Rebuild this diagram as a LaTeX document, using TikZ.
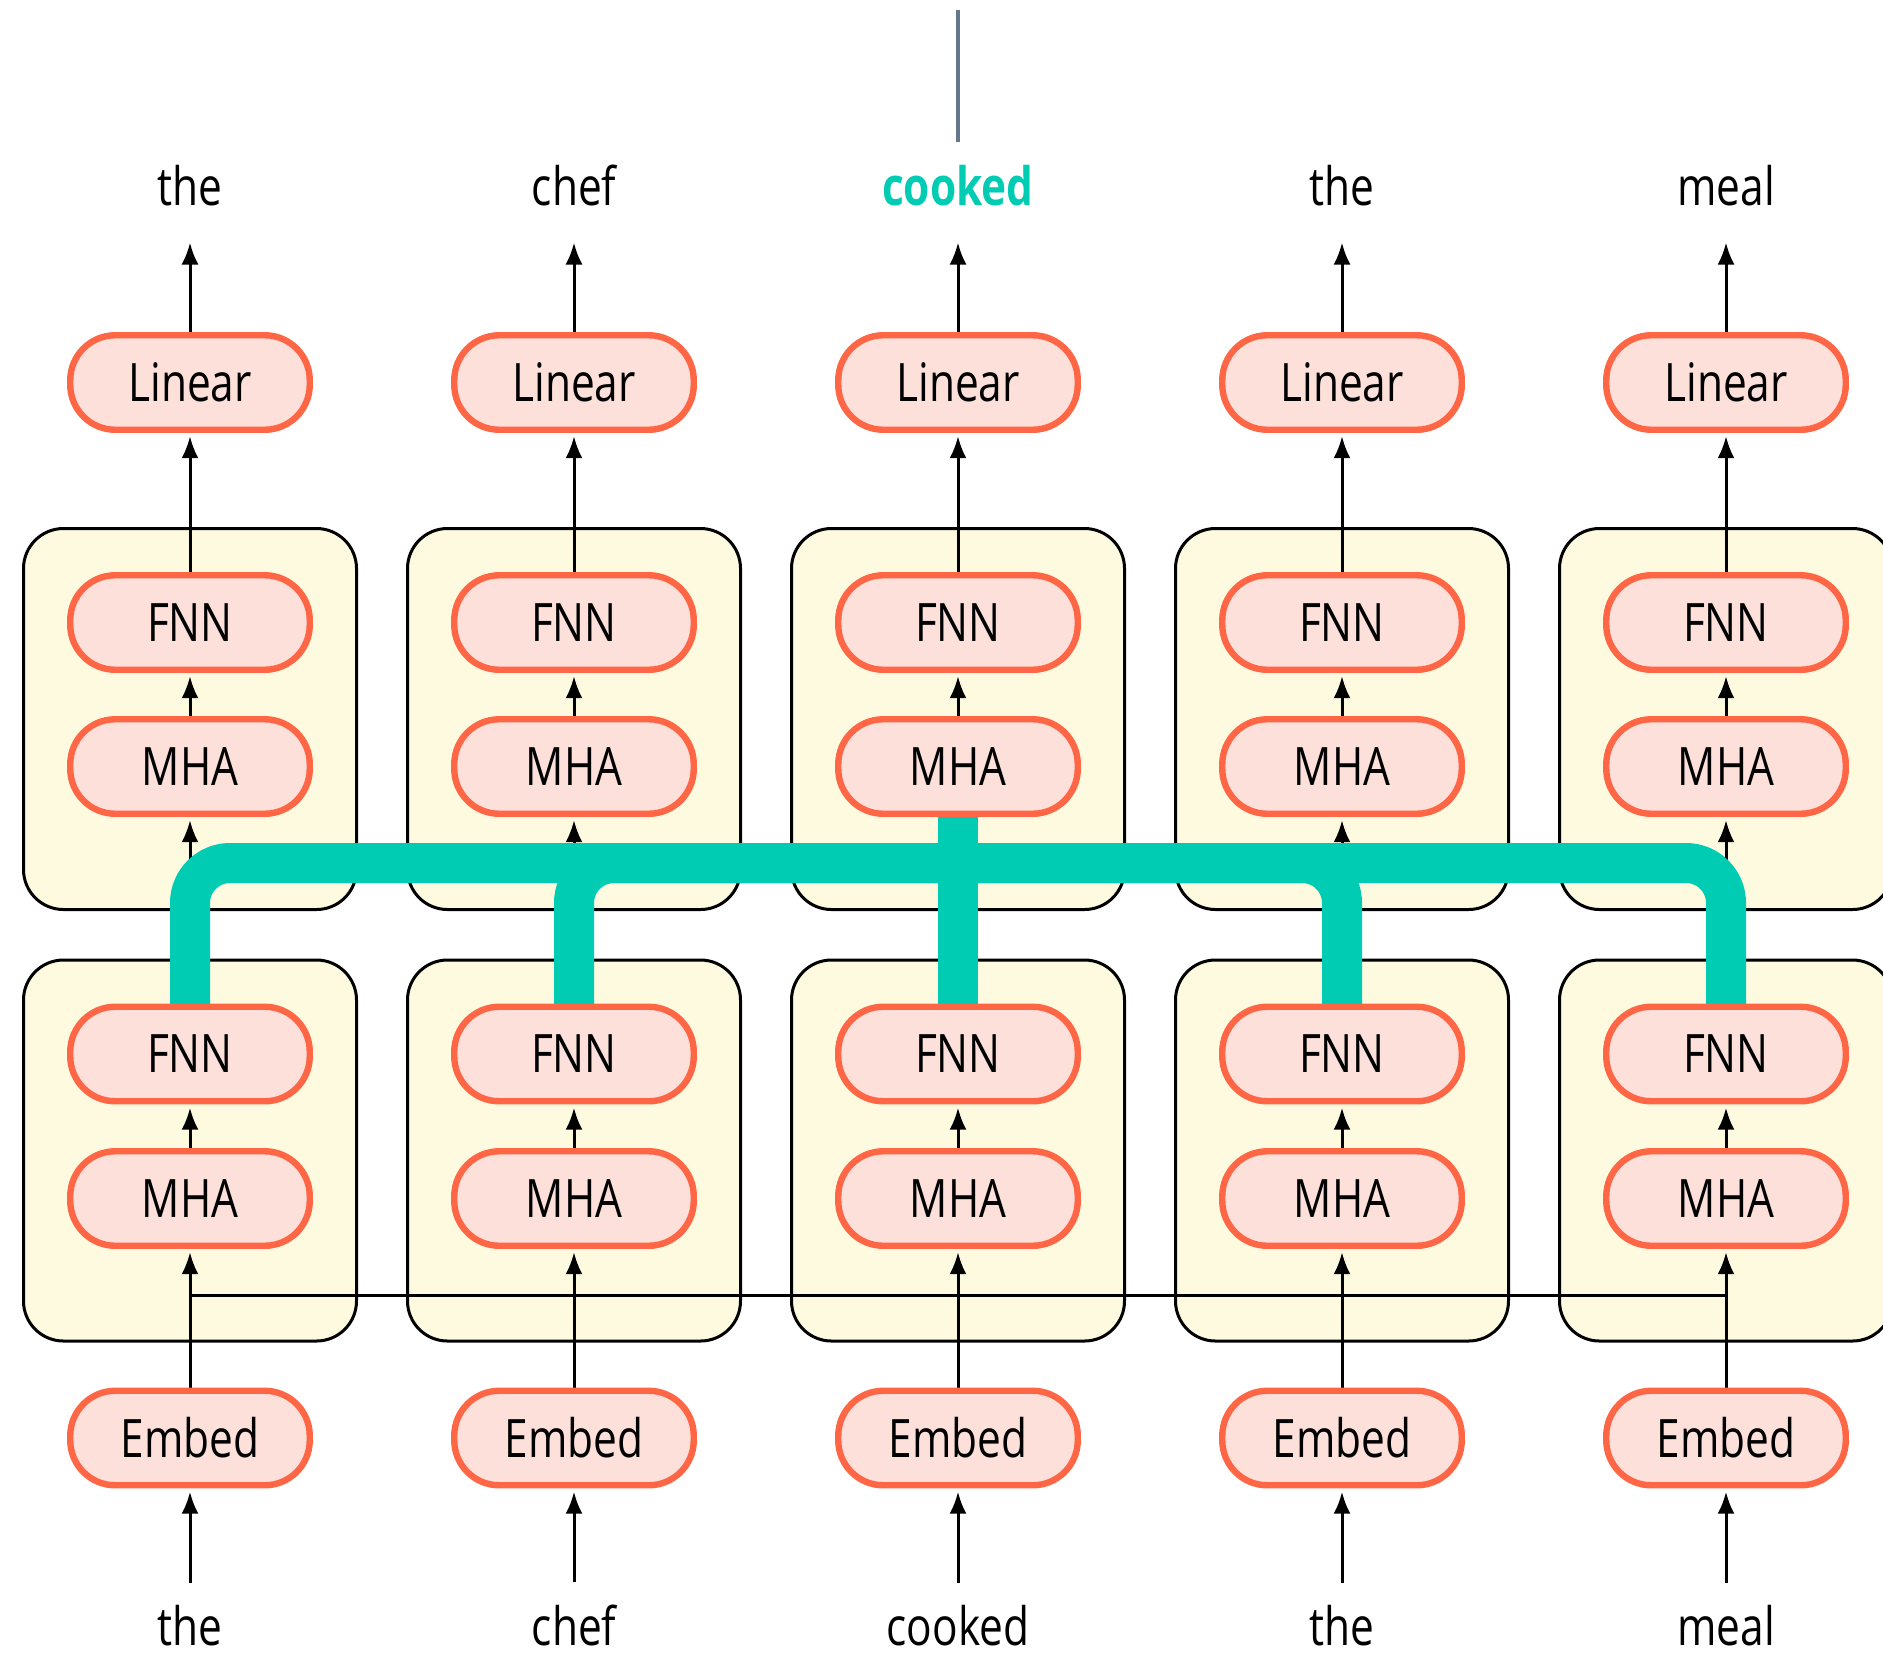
\documentclass[tikz,border=0pt]{standalone}
\usepackage{fontspec}
\setmainfont{Open Sans}[FakeStretch=0.8]
\usetikzlibrary{arrows.meta}

\definecolor{pillfill}{HTML}{FDE0D9}
\definecolor{pillline}{HTML}{FF6645}
\definecolor{blockfill}{HTML}{FEFADF}
\definecolor{routeteal}{HTML}{00CCB4}
\definecolor{exitgray}{HTML}{64788C}

\pgfdeclarelayer{boxes}
\pgfdeclarelayer{links}
\pgfsetlayers{boxes,links,main}

\begin{document}
\begin{tikzpicture}[x=0.5pt,y=-0.5pt,
  pill/.style={draw=pillline, line width=3.2pt, fill=pillfill,
    rounded corners=22.5pt, minimum width=119.75pt, minimum height=47.25pt,
    inner sep=0pt, outer sep=0pt, font=\fontsize{26.5}{30}\selectfont},
  block/.style={draw=black, line width=1.5pt, fill=blockfill,
    rounded corners=20pt, minimum width=166.5pt, minimum height=190.5pt,
    inner sep=0pt, outer sep=0pt},
  word/.style={anchor=base, inner sep=0pt, outer sep=0pt,
    font=\fontsize{26.5}{30}\selectfont},
  arr/.style={line width=1.5pt, -{Latex[length=11pt,width=8.5pt]}, shorten >=3.2pt},
  plain/.style={line width=1.5pt},
  route/.style={draw=routeteal, line width=20pt, rounded corners=20pt}
]
\useasboundingbox (0,0) rectangle (1883,1655);
\clip (0,0) rectangle (1883,1655);

% one column per token
\foreach \i/\x/\w in {1/190/the, 2/574/chef, 3/958/cooked, 4/1342/the, 5/1726/meal}{
  \begin{pgfonlayer}{boxes}
    \node[block] (bu\i) at (\x,719) {};
    \node[block] (bl\i) at (\x,1150.5) {};
  \end{pgfonlayer}
  \node[pill] (lin\i) at (\x,382.5) {Linear};
  \node[pill] (fu\i)  at (\x,622.5) {FNN};
  \node[pill] (mu\i)  at (\x,766.5) {MHA};
  \node[pill] (fl\i)  at (\x,1054)  {FNN};
  \node[pill] (ml\i)  at (\x,1198.5){MHA};
  \node[pill] (emb\i) at (\x,1438)  {Embed};
  \node[word] (wb\i)  at (\x,1645)  {\w};
}

% output tokens
\node[word] (wt1) at (190,205) {the};
\node[word] (wt2) at (574,205) {chef};
\node[word, text=routeteal, font=\fontsize{26.5}{30}\selectfont\bfseries] (wt3) at (958,205) {cooked};
\node[word] (wt4) at (1342,205) {the};
\node[word] (wt5) at (1726,205) {meal};

\coordinate (hub) at (958,863);
\coordinate (j1) at (190,1295);
\coordinate (j5) at (1726,1295);
\coordinate (exit) at (958,10);

\begin{pgfonlayer}{links}
  \foreach \i in {1,...,5}{
    \draw[arr, shorten <=11pt] (wb\i.north) -- (emb\i.south);
    \draw[arr] (emb\i.north) -- (ml\i.south);
    \draw[arr] (ml\i.north) -- (fl\i.south);
    \draw[arr] (fl\i.north) -- (mu\i.south);
    \draw[arr] (mu\i.north) -- (fu\i.south);
    \draw[arr] (fu\i.north) -- (lin\i.south);
    \draw[arr, shorten >=18.5pt] (lin\i.north) -- (wt\i.south);
  }
  % attention links among the embeddings
  \draw[plain] (j1) -- (j5);
  % information flowing into the predicted token
  \draw[route] (fl1.north) |- (hub);
  \draw[route] (fl2.north) |- (hub);
  \draw[route] (fl4.north) |- (hub);
  \draw[route] (fl5.north) |- (hub);
  \draw[route] (fl3.north) -- (mu3.south);
\end{pgfonlayer}

\draw[exitgray, line width=2pt, shorten <=11.5pt] (wt3.north) -- (exit);
\end{tikzpicture}
\end{document}
